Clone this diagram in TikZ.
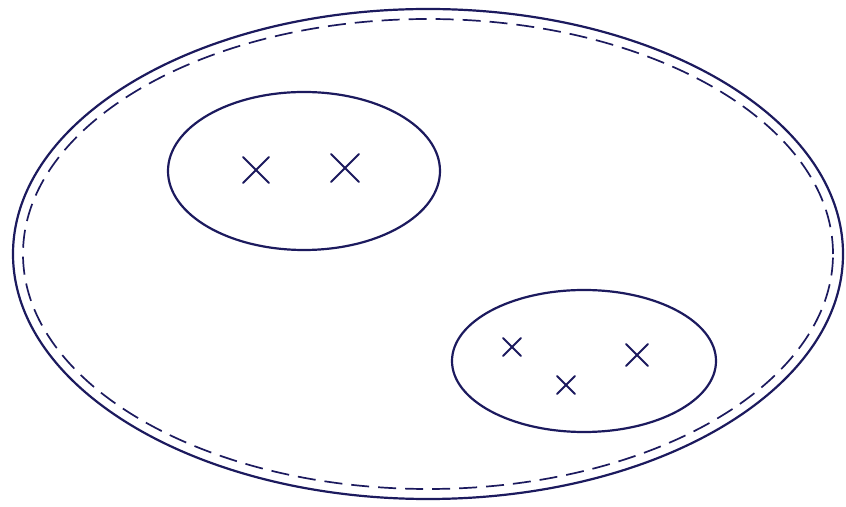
\documentclass[tikz,border=0pt]{standalone}
\definecolor{ink}{HTML}{1C1A5E}
\tikzset{pen/.style={draw=ink,line width=2.2pt,line cap=round},
  dashpen/.style={draw=ink,line width=1.7pt,dash pattern=on 18pt off 9pt},
  crossmark/.style={draw=ink,line width=1.9pt,line cap=round}}
\newcommand{\crossat}[3]{\draw[crossmark] ($(#1,#2)+(-#3,-#3)$) -- ($(#1,#2)+(#3,#3)$);
  \draw[crossmark] ($(#1,#2)+(-#3,#3)$) -- ($(#1,#2)+(#3,-#3)$);}
\usetikzlibrary{calc}
\begin{document}
\begin{tikzpicture}[x=1pt,y=1pt]
\useasboundingbox (0,0) rectangle (846,506);
\fill[white] (0,0) rectangle (846,506);
% outer set
\draw[pen] (428,252) ellipse [x radius=415, y radius=245];
\draw[dashpen] (428,252) ellipse [x radius=405, y radius=235];
% subsets
\draw[pen] (304,335) ellipse [x radius=136, y radius=79];
\draw[pen] (584,145) ellipse [x radius=132, y radius=71];
% points
\crossat{256}{336}{13}
\crossat{345}{338}{14}
\crossat{512}{159}{9}
\crossat{566}{121}{9}
\crossat{637}{151}{11}
\end{tikzpicture}
\end{document}
